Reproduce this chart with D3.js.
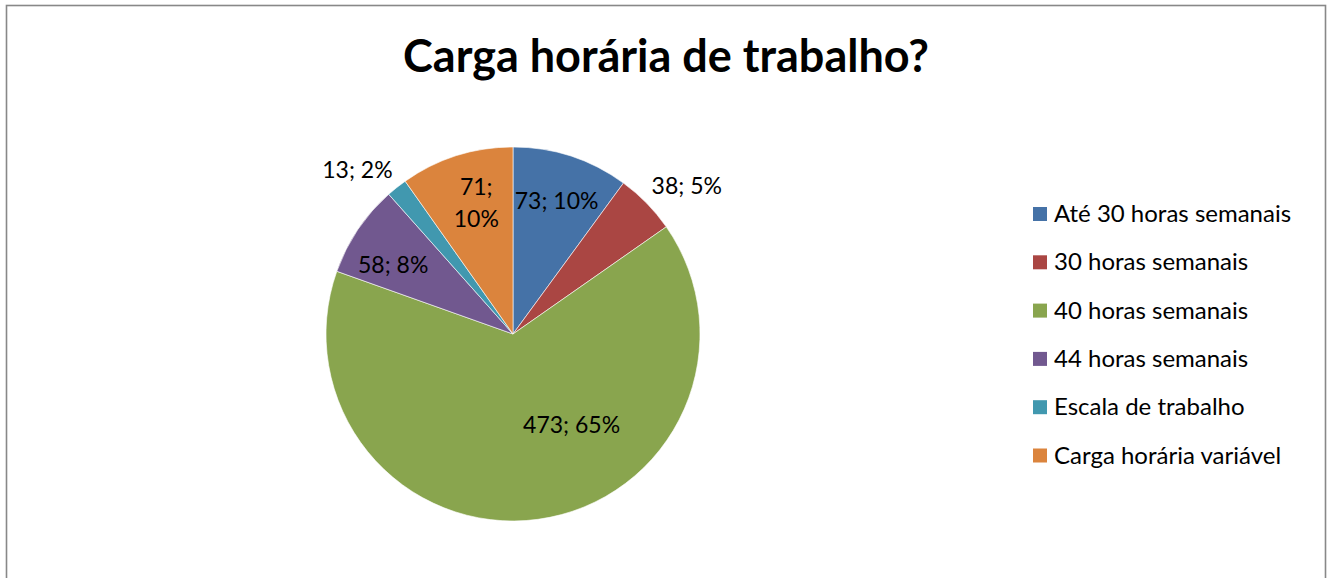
<!DOCTYPE html>
<html>
<head>
<meta charset="utf-8">
<script src="https://cdn.jsdelivr.net/npm/d3@7"></script>
<style>
  body { margin: 0; background: #fff; }
  text { font-family: Lato, "Open Sans", sans-serif; fill: #000; }
</style>
</head>
<body>
<div id="main"></div>
<script>
var categories = ["Até 30 horas semanais", "30 horas semanais", "40 horas semanais",
  "44 horas semanais", "Escala de trabalho", "Carga horária variável"];
var values = [73, 38, 473, 58, 13, 71];
var colors = ["#4572A7", "#AA4643", "#89A54E", "#71588F", "#4198AF", "#DB843D"];
// label placement, as fraction of radius and angle nudge (degrees)
var labelRadius = [0.75, 1.22, 0.58, 0.74, 1.21, 0.73];
var labelNudge = [0, 4, -25, -4, -5, 2];

var width = 1330, height = 578;
var svg = d3.select("#main").append("svg")
  .attr("width", width).attr("height", height);

// chart frame
svg.append("rect")
  .attr("x", 6.5).attr("y", 5.5)
  .attr("width", 1319).attr("height", 600)
  .style("fill", "#fff")
  .style("stroke", "#888")
  .style("stroke-width", 1.6);

svg.append("text")
  .attr("x", 666).attr("y", 72)
  .attr("text-anchor", "middle")
  .style("font-size", "45px")
  .style("font-weight", "bold")
  .text("Carga horária de trabalho?");

var cx = 513, cy = 334, radius = 187;
var total = d3.sum(values);
var pie = d3.pie().sort(null).value(function(d) { return d; });
var arcs = pie(values);
var arc = d3.arc().innerRadius(0).outerRadius(radius);

var pieGroup = svg.append("g")
  .attr("transform", "translate(" + cx + "," + cy + ")");

pieGroup.selectAll("path")
  .data(arcs)
  .enter().append("path")
  .attr("d", arc)
  .style("fill", function(d, i) { return colors[i]; })
  .style("stroke", "#fff")
  .style("stroke-width", 0.6);

arcs.forEach(function(d, i) {
  var mid = (d.startAngle + d.endAngle) / 2 + labelNudge[i] * Math.PI / 180;
  var r = radius * labelRadius[i];
  var x = Math.sin(mid) * r;
  var y = -Math.cos(mid) * r;
  var pct = Math.round(d.value / total * 100) + "%";
  var t = pieGroup.append("text")
    .attr("text-anchor", "middle")
    .style("font-size", "23px");
  if (i === 5) {
    t.append("tspan").attr("x", x).attr("y", y - 8).text(d.value + ";");
    t.append("tspan").attr("x", x).attr("y", y + 24).text(pct);
  } else {
    t.attr("x", x).attr("y", y + 8).text(d.value + "; " + pct);
  }
});

var legend = svg.append("g").attr("transform", "translate(1033,207)");
categories.forEach(function(c, i) {
  var row = legend.append("g").attr("transform", "translate(0," + (i * 48.3) + ")");
  row.append("rect")
    .attr("width", 14).attr("height", 14)
    .style("fill", colors[i]);
  row.append("text")
    .attr("x", 21).attr("y", 15)
    .style("font-size", "24px")
    .text(c);
});
</script>
</body>
</html>
